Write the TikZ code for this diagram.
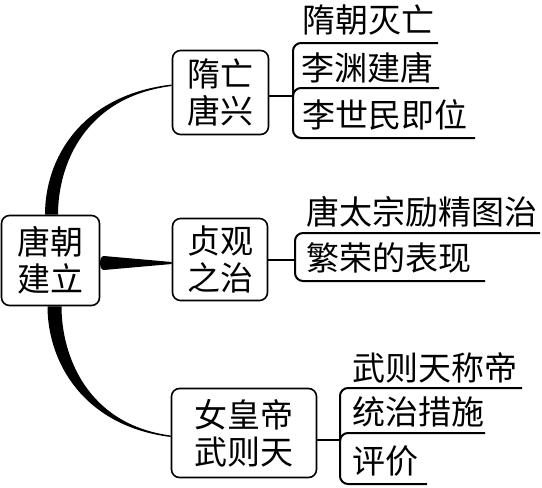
\documentclass[tikz,border=0pt]{standalone}
\usepackage{fontspec}
\newfontfamily\cjk{Noto Sans CJK SC}
\usetikzlibrary{calc}
\begin{document}
\begin{tikzpicture}[x=1pt,y=-1pt,
  topic/.style={draw, line width=1.6pt, rounded corners=8pt, align=center, inner sep=0pt,
    font=\cjk\fontsize{33}{37}\selectfont},
  leaf/.style={anchor=west, inner sep=0pt, font=\cjk\fontsize{33}{37}\selectfont},
  branch/.style={line width=2pt, rounded corners=8pt},
  stem/.style={line width=2pt}]
\useasboundingbox (0,0) rectangle (542,488);
% topics
\node[topic, minimum width=98pt, minimum height=90pt] (r) at (50.5,260.5) {唐朝\\建立};
\node[topic, minimum width=96pt, minimum height=84pt] (a) at (220.5,92.5) {隋亡\\唐兴};
\node[topic, minimum width=95pt, minimum height=82pt] (b) at (220,259.5) {贞观\\之治};
\node[topic, minimum width=145pt, minimum height=89pt] (c) at (244,433) {女皇帝\\武则天};
% leaves
\node[leaf] (a1) at (302,20) {隋朝灭亡};
\node[leaf] (a2) at (301,67.5) {李渊建唐};
\node[leaf] (a3) at (302,115) {李世民即位};
\node[leaf] (b1) at (306,211.5) {唐太宗励精图治};
\node[leaf] (b2) at (306,257.5) {繁荣的表现};
\node[leaf] (c1) at (352,367.5) {武则天称帝};
\node[leaf] (c2) at (352,412) {统治措施};
\node[leaf] (c3) at (352,461) {评价};
% junctions and underline ends
\coordinate (ja) at (293,96);
\coordinate (jb) at (295,260);
\coordinate (jc) at (340,440);
\coordinate (a1u) at (438,43);
\coordinate (a2u) at (439,88);
\coordinate (a3u) at (475,138);
\coordinate (b1u) at (540,233);
\coordinate (b2u) at (485,281);
\coordinate (c1u) at (522,388);
\coordinate (c2u) at (485,433);
\coordinate (c3u) at (427,484);
% stems
\draw[stem] (ja -| a.east) -- (ja);
\draw[stem] (jb -| b.east) -- (jb);
\draw[stem] (jc -| c.east) -- (jc);
% leaf branches
\draw[branch] (ja) |- (a1u);
\draw[branch] (ja) |- (a2u);
\draw[branch] (ja) |- (a3u);
\draw[branch] (jb) |- (b1u);
\draw[branch] (jb) |- (b2u);
\draw[branch] (jc) |- (c1u);
\draw[branch] (jc) |- (c2u);
\draw[branch] (jc) |- (c3u);
% tapered main connectors
\fill ($(r.north)+(-5.5,0)$) .. controls +(0,-55) and +(-92,11) .. ($(a.west)+(0,-8)$)
  -- ($(a.west)+(0,-6.5)$) .. controls +(-87,11) and +(0,-50) .. ($(r.north)+(7.5,0)$) -- cycle;
\fill ($(r.south)+(-3,0)$) .. controls +(0,55) and +(-88,-11) .. ($(c.west)+(0,4)$)
  -- ($(c.west)+(0,2.5)$) .. controls +(-83,-11) and +(0,50) .. ($(r.south)+(11,0)$) -- cycle;
\fill ($(r.east)+(3.5,-4.5)$) -- ($(b.west)+(0,2.5)$) -- ($(b.west)+(0,4.5)$)
  -- ($(r.east)+(3.5,9.5)$) .. controls +(-5,0) and +(-5,0) .. ($(r.east)+(3.5,-4.5)$) -- cycle;
\end{tikzpicture}
\end{document}
